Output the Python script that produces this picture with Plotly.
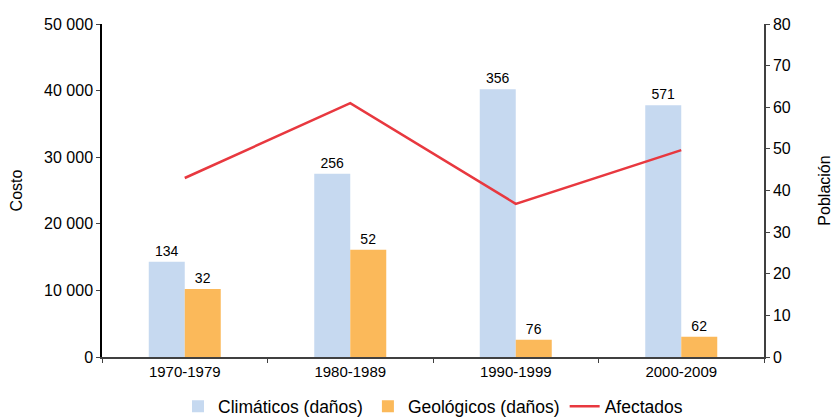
import plotly.graph_objects as go

categories = ["1970-1979", "1980-1989", "1990-1999", "2000-2009"]
climaticos = [14300, 27500, 40200, 37800]
geologicos = [10200, 16100, 2600, 3050]
climaticos_labels = ["134", "256", "356", "571"]
geologicos_labels = ["32", "52", "76", "62"]
afectados = [43, 61, 36.8, 49.7]

FONT = "Liberation Sans, Arial, sans-serif"

fig = go.Figure()
fig.add_trace(go.Bar(
    x=categories, y=climaticos, name="Climáticos (daños)",
    marker=dict(color="#C6D9F0", line=dict(width=0)),
    text=climaticos_labels, textposition="outside",
    textfont=dict(size=14, color="#000000", family=FONT),
    cliponaxis=False,
))
fig.add_trace(go.Bar(
    x=categories, y=geologicos, name="Geológicos (daños)",
    marker=dict(color="#FBB95A", line=dict(width=0)),
    text=geologicos_labels, textposition="outside",
    textfont=dict(size=14, color="#000000", family=FONT),
    cliponaxis=False,
))
fig.add_trace(go.Scatter(
    x=categories, y=afectados, name="Afectados", yaxis="y2",
    mode="lines", line=dict(color="#E8383F", width=2.5),
))

fig.update_layout(
    width=831, height=418,
    margin=dict(l=94, r=75, t=16, b=69, autoexpand=False),
    paper_bgcolor="white", plot_bgcolor="white",
    font=dict(family=FONT, size=14, color="#000000"),
    separators=", ",
    barmode="group", bargap=0.565, bargroupgap=0,
    showlegend=True,
    legend=dict(orientation="h", x=0.5, xanchor="center",
                yref="container", y=0.047, yanchor="middle",
                font=dict(size=17.5), traceorder="normal", itemwidth=30),
    xaxis=dict(
        showline=True, linecolor="#404040", linewidth=1.5,
        ticks="outside", tickson="boundaries", ticklen=4, tickcolor="#404040",
        tickfont=dict(size=15), showgrid=False, automargin=False,
    ),
    yaxis=dict(
        range=[0, 50000], tickvals=[0, 10000, 20000, 30000, 40000, 50000],
        tickformat=",d", showline=True, linecolor="#000000", linewidth=1.5,
        ticks="outside", ticklen=4, showgrid=False, zeroline=False,
        tickfont=dict(size=16), automargin=False,
        title=dict(text="Costo", font=dict(size=16), standoff=18),
    ),
    yaxis2=dict(
        range=[0, 80], tickvals=[0, 10, 20, 30, 40, 50, 60, 70, 80],
        overlaying="y", side="right", showline=True, linecolor="#404040", linewidth=1.5,
        ticks="outside", ticklen=4, showgrid=False, zeroline=False,
        tickfont=dict(size=16), automargin=False,
        title=dict(text="Población", font=dict(size=16), standoff=29),
    ),
)

fig.write_html("out.html")
